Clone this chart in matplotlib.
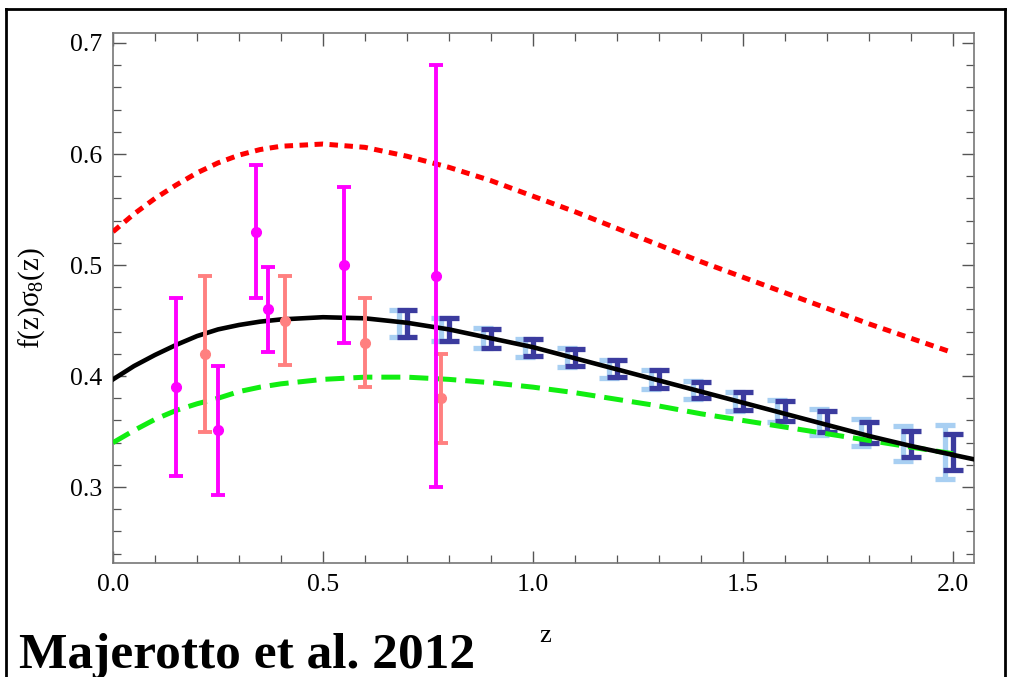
import matplotlib
matplotlib.use('Agg')
import matplotlib.pyplot as plt
from matplotlib.lines import Line2D
from matplotlib.ticker import MultipleLocator

plt.rcParams['font.family'] = ['Liberation Serif', 'DejaVu Serif']
plt.rcParams['mathtext.fontset'] = 'custom'
plt.rcParams['mathtext.rm'] = 'Liberation Serif'
plt.rcParams['mathtext.it'] = 'Liberation Serif'

# model curves
z_curve = [0.0, 0.05, 0.1, 0.15, 0.2, 0.25, 0.3, 0.35, 0.4, 0.5, 0.6, 0.7, 0.8, 0.9, 1.0,
           1.1, 1.2, 1.3, 1.4, 1.5, 1.6, 1.7, 1.8, 1.9, 2.0]
black_curve = [0.397, 0.409, 0.419, 0.428, 0.436, 0.442, 0.446, 0.449, 0.451, 0.453, 0.452,
               0.448, 0.442, 0.434, 0.426, 0.416, 0.406, 0.396, 0.386, 0.376, 0.366,
               0.356, 0.346, 0.337, 0.329]
red_curve = [0.530, 0.546, 0.560, 0.572, 0.583, 0.592, 0.599, 0.604, 0.607, 0.609, 0.606,
             0.598, 0.588, 0.576, 0.562, 0.548, 0.533, 0.518, 0.503, 0.489, 0.475,
             0.461, 0.447, 0.434, 0.421]
green_curve = [0.340, 0.351, 0.361, 0.369, 0.375, 0.380, 0.386, 0.390, 0.393, 0.397, 0.399,
               0.399, 0.397, 0.394, 0.390, 0.385, 0.379, 0.373, 0.366, 0.360, 0.354,
               0.348, 0.342, 0.336, 0.330]
z_black_end = [2.0, 2.05]
black_end = [0.329, 0.325]

# measurements
z_magenta = [0.15, 0.25, 0.34, 0.37, 0.55, 0.77]
fs8_magenta = [0.39, 0.351, 0.53, 0.46, 0.50, 0.49]
err_magenta = [0.08, 0.058, 0.06, 0.038, 0.07, 0.19]

z_salmon = [0.22, 0.41, 0.60, 0.78]
fs8_salmon = [0.42, 0.45, 0.43, 0.38]
err_salmon = [0.07, 0.04, 0.04, 0.04]

# forecast bins
z_bins = [0.7, 0.8, 0.9, 1.0, 1.1, 1.2, 1.3, 1.4, 1.5, 1.6, 1.7, 1.8, 1.9, 2.0]
fs8_bins = [0.4475, 0.442, 0.434, 0.4255, 0.4165, 0.4066, 0.397, 0.3874, 0.3773,
            0.3682, 0.3587, 0.349, 0.339, 0.3315]
err_dark = [0.012, 0.010, 0.0084, 0.0075, 0.0075, 0.0078, 0.0082, 0.0075, 0.008,
            0.009, 0.0095, 0.0097, 0.0117, 0.016]
err_light = [0.0123, 0.0105, 0.009, 0.0083, 0.0086, 0.0083, 0.0086, 0.0084, 0.0086,
             0.010, 0.012, 0.0123, 0.0158, 0.0243]
light_shift = 0.018

fig = plt.figure(figsize=(10.17, 6.77), dpi=100)
ax = fig.add_axes([113/1017, 1 - 563/677, 861/1017, 530/677])

z_light = [z - light_shift for z in z_bins]
ax.errorbar(z_light, fs8_bins, yerr=err_light, fmt='none', ecolor='#A8CFF2',
            elinewidth=3.8, capsize=7, capthick=3.8, zorder=2)
ax.errorbar(z_bins, fs8_bins, yerr=err_dark, fmt='none', ecolor='#3B3B9E',
            elinewidth=3.8, capsize=7, capthick=3.8, zorder=2)

ax.plot(z_curve, red_curve, color='#FF0000', lw=3.6, dashes=(1.7, 1.3),
        dash_capstyle='butt', zorder=3)
ax.plot(z_curve, green_curve, color='#11EE11', lw=3.6, dashes=(3.8, 1.8),
        dash_capstyle='butt', zorder=3)
ax.plot(z_curve, black_curve, color='black', lw=3.3, zorder=3)
ax.plot(z_black_end, black_end, color='black', lw=3.3, zorder=3)

ax.errorbar(z_salmon, fs8_salmon, yerr=err_salmon, fmt='o', color='#FF8080',
            ms=7, elinewidth=2.8, capsize=5, capthick=2.8, zorder=4)
ax.errorbar(z_magenta, fs8_magenta, yerr=err_magenta, fmt='o', color='#FF00FF',
            ms=7, elinewidth=2.8, capsize=5, capthick=2.8, zorder=5)

ax.set_xlim(0, 2.05)
ax.set_ylim(0.2316, 0.709)
ax.xaxis.set_major_locator(MultipleLocator(0.5))
ax.xaxis.set_minor_locator(MultipleLocator(0.1))
ax.yaxis.set_major_locator(MultipleLocator(0.1))
ax.yaxis.set_minor_locator(MultipleLocator(0.02))
ax.xaxis.set_major_formatter(plt.FuncFormatter(lambda v, p: '%.1f' % v))
ax.yaxis.set_major_formatter(plt.FuncFormatter(lambda v, p: '%.1f' % v))
ax.tick_params(which='both', direction='in', top=True, right=True,
               color='#555555', labelsize=18.5, labelcolor='black')
ax.tick_params(which='major', length=9, width=1.0, pad=8)
ax.tick_params(which='minor', length=6, width=0.9)
for s in ax.spines.values():
    s.set_color('#777777')
    s.set_linewidth(1.2)

fig.text(32/1017, 1 - 298/677, r'f(z)$\sigma_8$(z)', rotation=90,
         ha='center', va='center', fontsize=21)
fig.text(545/1017, 1 - 636/677, 'z', ha='center', va='center', fontsize=19)
fig.text(19/1017, 1 - 668/677, 'Majerotto et al. 2012', ha='left', va='baseline',
         fontsize=37, fontweight='bold')

# outer frame of the slide
for xs, ys in [([6/1017, 6/1017], [0, 1 - 9/677]),
               ([6/1017, 1005/1017], [1 - 9/677, 1 - 9/677]),
               ([1005/1017, 1005/1017], [0, 1 - 9/677])]:
    fig.add_artist(Line2D(xs, ys, color='black', lw=2))

fig.savefig('out.png', dpi=100)
